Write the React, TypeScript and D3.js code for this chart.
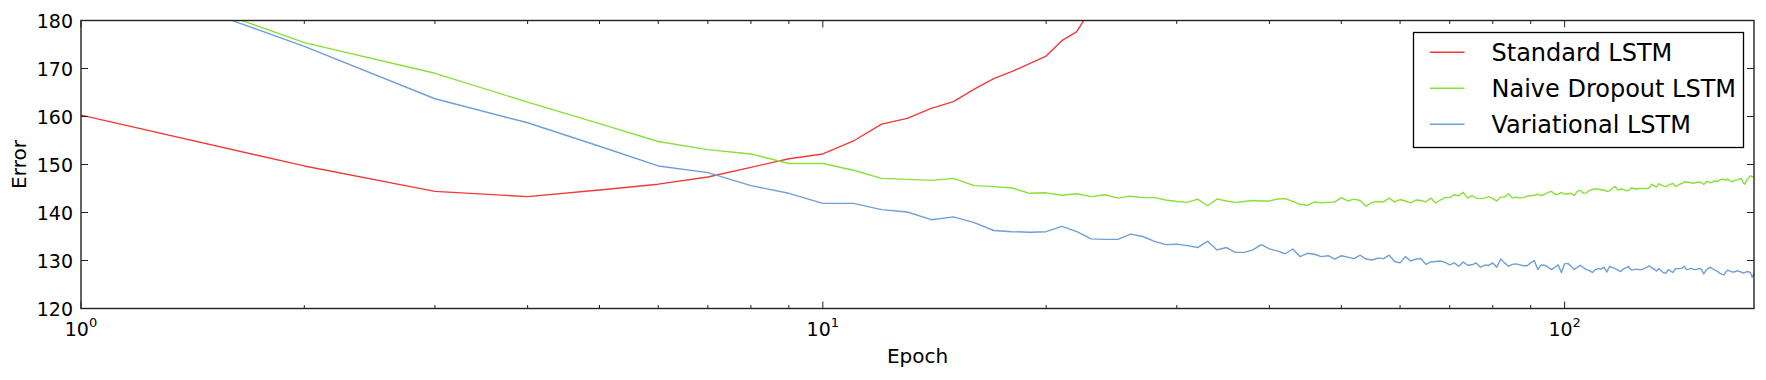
import React from "react";
import * as d3 from "d3";

// ---- data ----
const standardLSTM: number[] = [
  160.3, 149.7, 144.4, 143.3, 144.7, 145.9, 147.4, 149.4, 151.2, 152.2,
  154.9, 158.4, 159.6, 161.7, 163.1, 165.7, 167.9, 169.4, 171.0, 172.6,
  175.8, 177.7, 182.5,
];

const naiveDropoutLSTM: number[] = [
  191.8, 175.4, 169.0, 163.0, 158.5, 154.8, 153.1, 152.2, 150.2, 150.2,
  148.8, 147.1, 146.9, 146.7, 147.1, 145.6, 145.4, 145.1, 144.0, 144.1,
  143.6, 143.9, 143.3, 143.7, 143.0, 143.4, 143.1, 143.1, 142.6, 142.3,
  142.1, 142.8, 141.4, 142.8, 142.4, 142.1, 142.3, 142.5, 142.4, 142.4,
  142.8, 142.9, 142.3, 141.7, 141.5, 142.2, 142.0, 142.1, 142.2, 143.1,
  142.4, 142.8, 142.5, 141.3, 142.1, 142.3, 142.2, 143.0, 142.2, 142.7,
  142.4, 142.0, 142.6, 142.5, 142.2, 143.0, 142.0, 142.6, 143.1, 143.1,
  143.7, 143.5, 144.2, 143.0, 143.5, 143.0, 142.9, 143.0, 143.3, 142.9,
  142.4, 143.2, 143.2, 143.9, 143.0, 143.2, 143.0, 143.1, 143.4, 143.5,
  143.6, 143.8, 143.5, 143.8, 144.2, 144.4, 143.8, 143.8, 144.2, 143.8,
  143.9, 144.0, 143.5, 144.4, 144.6, 144.0, 144.1, 144.6, 144.8, 144.9,
  144.9, 144.7, 144.7, 144.4, 144.5, 145.1, 145.4, 144.7, 144.9, 144.8,
  144.5, 144.6, 145.1, 145.0, 144.9, 145.0, 145.0, 145.0, 145.0, 145.1,
  145.9, 145.6, 145.3, 146.0, 145.7, 145.5, 145.4, 145.7, 145.9, 146.05,
  145.4, 145.6, 145.9, 146.05, 146.4, 146.3, 146.3, 146.2, 146.1, 146.2,
  146.3, 146.3, 146.2, 145.85, 146.3, 146.5, 146.2, 146.3, 146.6, 146.5,
  146.5, 146.8, 146.9, 146.95, 146.7, 147.0, 146.6, 146.4, 146.6, 146.75,
  146.8, 146.95, 147.1, 146.3, 145.9, 146.8, 147.2, 147.65, 147.5, 147.4,
];

const variationalLSTM: number[] = [
  191.3, 174.6, 163.7, 158.7, 153.8, 149.7, 148.3, 145.6, 144.0, 141.9,
  141.9, 140.6, 140.1, 138.5, 139.1, 137.9, 136.25, 136.0, 135.9, 136.0,
  137.1, 136.0, 134.5, 134.4, 134.4, 135.5, 135.0, 134.0, 133.3, 133.4,
  133.1, 132.7, 134.0, 132.2, 132.7, 131.7, 131.7, 132.2, 133.3, 132.4,
  132.0, 131.4, 132.4, 130.8, 131.5, 131.3, 130.8, 131.0, 130.3, 131.0,
  130.7, 130.4, 131.1, 130.3, 130.1, 130.5, 130.4, 131.1, 129.8, 129.5,
  130.8, 129.9, 130.3, 130.4, 129.2, 129.7, 129.8, 129.9, 129.6, 129.1,
  129.5, 128.8, 129.7, 129.0, 129.1, 129.5, 128.6, 129.0, 129.0, 129.5,
  128.6, 130.3, 129.5, 128.8, 129.2, 129.3, 129.1, 128.9, 128.9, 129.5,
  130.0, 128.1, 129.1, 129.0, 128.6, 128.1, 128.6, 129.1, 127.5, 129.3,
  129.4, 128.8, 128.1, 128.6, 129.0, 128.5, 128.1, 127.9, 127.5, 128.1,
  128.3, 128.2, 128.6, 127.6, 128.8, 128.5, 128.3, 128.0, 127.7, 128.2,
  128.5, 128.7, 128.0, 128.1, 128.2, 128.1, 128.1, 128.3, 128.55, 128.9,
  128.5, 128.2, 127.8, 128.35, 127.8, 127.4, 127.4, 128.1, 127.8, 127.5,
  128.3, 128.3, 128.3, 128.4, 128.8, 128.1, 128.2, 128.35, 128.2, 128.1,
  128.2, 128.35, 128.1, 127.2, 127.9, 128.3, 128.6, 128.35, 128.1, 127.9,
  127.65, 127.3, 127.1, 127.0, 127.65, 128.0, 127.8, 127.65, 127.6, 127.7,
  127.9, 127.7, 127.6, 127.4, 127.5, 127.7, 127.65, 127.5, 126.5, 127.4,
];

const seriesNames: string[] = ["Standard LSTM", "Naive Dropout LSTM", "Variational LSTM"];
const seriesColors: string[] = ["#f03a3a", "#88e038", "#6f9fd8"];
const yTicks: number[] = [120, 130, 140, 150, 160, 170, 180];
const xMajorTicks: number[] = [1, 10, 100];
const xDomain: [number, number] = [1, 180];
const yDomain: [number, number] = [120, 180];

// ---- layout ----
const W = 1766;
const H = 380;
const L = 81;
const R = 1754;
const T = 20.5;
const B = 308.5;
const FONT = "'DejaVu Sans', sans-serif";
const AXIS = "#222";

export default function App() {
  const x = d3.scaleLog().domain(xDomain).range([L, R]);
  const y = d3.scaleLinear().domain(yDomain).range([B, T]);

  const allSeries = [standardLSTM, naiveDropoutLSTM, variationalLSTM];
  const line = d3
    .line<[number, number]>()
    .x((d) => x(d[0]))
    .y((d) => y(d[1]));

  const minorTicks: number[] = [];
  for (const dec of [1, 10, 100]) {
    for (let k = 2; k <= 9; k++) {
      const v = dec * k;
      if (v < xDomain[1]) minorTicks.push(v);
    }
  }

  const legendX = 1413.5;
  const legendY = 32.5;
  const legendW = 330;
  const legendH = 115;

  return (
    <div style={{ position: "absolute", left: 0, top: 0 }}>
      <svg width={W} height={H} style={{ display: "block", background: "#fff" }}>
        <defs>
          <clipPath id="plotclip">
            <rect x={L} y={T} width={R - L} height={B - T} />
          </clipPath>
        </defs>

        {/* series */}
        <g clipPath="url(#plotclip)">
          {allSeries.map((s, i) => (
            <path
              key={i}
              d={line(s.map((v, j) => [j + 1, v] as [number, number])) || ""}
              fill="none"
              stroke={seriesColors[i]}
              strokeWidth={1.4}
              strokeLinejoin="round"
            />
          ))}
        </g>

        {/* frame */}
        <rect x={L} y={T} width={R - L} height={B - T} fill="none" stroke={AXIS} strokeWidth={1.4} />

        {/* y ticks */}
        {yTicks.map((t) => (
          <g key={"y" + t}>
            <line x1={L} x2={L + 7} y1={y(t)} y2={y(t)} stroke={AXIS} strokeWidth={1} />
            <line x1={R} x2={R - 7} y1={y(t)} y2={y(t)} stroke={AXIS} strokeWidth={1} />
            <text
              x={L - 8}
              y={y(t)}
              textAnchor="end"
              dominantBaseline="central"
              fontFamily={FONT}
              fontSize={19}
              fill="#000"
            >
              {t}
            </text>
          </g>
        ))}

        {/* x major ticks */}
        {xMajorTicks.map((t, i) => (
          <g key={"x" + t}>
            <line x1={x(t)} x2={x(t)} y1={B} y2={B - 7} stroke={AXIS} strokeWidth={1} />
            <line x1={x(t)} x2={x(t)} y1={T} y2={T + 7} stroke={AXIS} strokeWidth={1} />
            <text x={x(t)} y={335.5} textAnchor="middle" fontFamily={FONT} fontSize={19} fill="#000">
              <tspan>10</tspan>
              <tspan dy={-9} fontSize={13}>
                {String(Math.round(Math.log10(t)))}
              </tspan>
            </text>
          </g>
        ))}

        {/* x minor ticks */}
        {minorTicks.map((t) => (
          <g key={"m" + t}>
            <line x1={x(t)} x2={x(t)} y1={B} y2={B - 3.5} stroke={AXIS} strokeWidth={1} />
            <line x1={x(t)} x2={x(t)} y1={T} y2={T + 3.5} stroke={AXIS} strokeWidth={1} />
          </g>
        ))}

        {/* axis labels */}
        <text x={(L + R) / 2} y={363} textAnchor="middle" fontFamily={FONT} fontSize={20} fill="#000">
          Epoch
        </text>
        <text
          transform={`translate(26, ${(T + B) / 2}) rotate(-90)`}
          textAnchor="middle"
          fontFamily={FONT}
          fontSize={20}
          fill="#000"
        >
          Error
        </text>

        {/* legend */}
        <rect x={legendX} y={legendY} width={legendW} height={legendH} fill="#fff" stroke="#000" strokeWidth={1.3} />
        {seriesNames.map((name, i) => {
          const ly = 52.3 + i * 36;
          return (
            <g key={name}>
              <line x1={1430} x2={1464.5} y1={ly} y2={ly} stroke={seriesColors[i]} strokeWidth={1.4} />
              <text x={1491.5} y={ly + 9} fontFamily={FONT} fontSize={24} fill="#000">
                {name}
              </text>
            </g>
          );
        })}
      </svg>
    </div>
  );
}
